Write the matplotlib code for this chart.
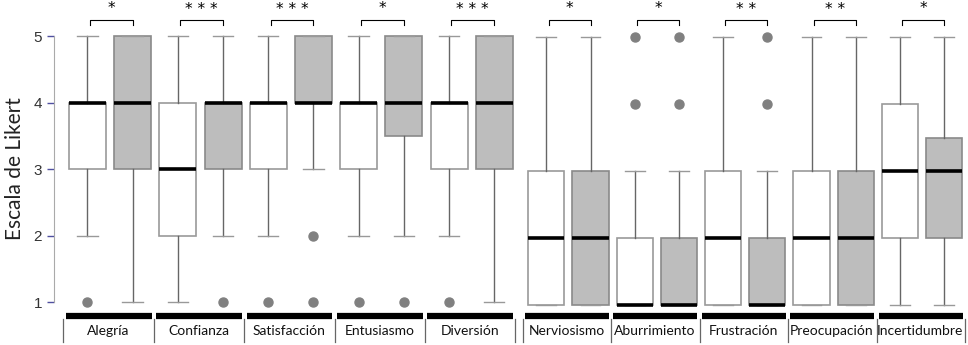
import matplotlib.pyplot as plt

categories = ["Alegría", "Confianza", "Satisfacción", "Entusiasmo", "Diversión",
              "Nerviosismo", "Aburrimiento", "Frustración", "Preocupación", "Incertidumbre"]
stars = ["*", "* * *", "* * *", "*", "* * *", "*", "*", "* *", "* *", "*"]

# first condition (white boxes)
white_lo = [2, 1, 2, 2, 2, 1, 1, 1, 1, 1]
white_q1 = [3, 2, 3, 3, 3, 1, 1, 1, 1, 2]
white_med = [4, 3, 4, 4, 4, 2, 1, 2, 2, 3]
white_q3 = [4, 4, 4, 4, 4, 3, 2, 3, 3, 4]
white_hi = [5, 5, 5, 5, 5, 5, 3, 5, 5, 5]
white_out = [[1], [], [1], [1], [1], [], [4, 5], [], [], []]

# second condition (gray boxes)
gray_lo = [1, 2, 3, 2, 1, 1, 1, 1, 1, 1]
gray_q1 = [3, 3, 4, 3.5, 3, 1, 1, 1, 1, 2]
gray_med = [4, 4, 4, 4, 4, 2, 1, 1, 2, 3]
gray_q3 = [5, 4, 5, 5, 5, 3, 2, 2, 3, 3.5]
gray_hi = [5, 5, 5, 5, 5, 5, 3, 3, 5, 5]
gray_out = [[], [1], [1, 2], [1], [], [], [4, 5], [4, 5], [], []]

W, H = 968, 345
fig = plt.figure(figsize=(W / 100, H / 100), dpi=100)


def stats(lo, q1, med, q3, hi, out, idx):
    return [dict(whislo=lo[i], q1=q1[i], med=med[i], q3=q3[i], whishi=hi[i],
                 fliers=out[i], label="") for i in idx]


def make_panel(x0, x1, y5, y1, xl, xr, idx):
    ax = fig.add_axes([x0 / W, 0, (x1 - x0) / W, 1])
    unit = (y1 - y5) / 4
    ax.set_ylim(1 - (H - y1) / unit, 5 + y5 / unit)
    ax.set_xlim(xl, xr)
    n = len(idx)
    pos_w = [2 * j for j in range(n)]
    pos_g = [2 * j + 1 for j in range(n)]
    common = dict(widths=0.82, patch_artist=True, showfliers=True, capwidths=0.45,
                  medianprops=dict(color="black", lw=2.6),
                  whiskerprops=dict(color="#666666", lw=1),
                  capprops=dict(color="#999999", lw=1),
                  flierprops=dict(marker="o", markerfacecolor="#808080",
                                  markeredgecolor="#808080", markersize=6.5))
    ax.bxp(stats(white_lo, white_q1, white_med, white_q3, white_hi, white_out, idx),
           positions=pos_w, boxprops=dict(facecolor="white", edgecolor="#9a9a9a", lw=1.2), **common)
    ax.bxp(stats(gray_lo, gray_q1, gray_med, gray_q3, gray_hi, gray_out, idx),
           positions=pos_g, boxprops=dict(facecolor="#bdbdbd", edgecolor="#8a8a8a", lw=1.2), **common)

    tr = ax.get_xaxis_transform()
    fy = lambda p: 1 - p / H
    for j, i in enumerate(idx):
        a, b = 2 * j + 0.05, 2 * j + 1.0
        ax.plot([a, a, b, b], [fy(25), fy(20), fy(20), fy(25)], color="black", lw=0.8,
                transform=tr, clip_on=False)
        ax.text((a + b) / 2, fy(9), stars[i], ha="center", va="center", fontsize=11,
                transform=tr)
        ax.plot([2 * j - 0.48, 2 * j + 1.42], [fy(316), fy(316)], color="black", lw=4.5,
                solid_capstyle="butt", transform=tr, clip_on=False)
        ax.text(2 * j + 0.46, fy(331), categories[i], ha="center", va="center",
                fontsize=10, family="Lato", color="#111111", transform=tr)
    for j in range(n + 1):
        ax.plot([2 * j - 0.53] * 2, [fy(319), fy(342)], color="#666666", lw=0.9,
                transform=tr, clip_on=False)
    for s in ["top", "right", "bottom"]:
        ax.spines[s].set_visible(False)
    ax.set_xticks([])
    return ax


left = make_panel(54, 520, 36, 302, -0.74, 9.57, range(0, 5))
left.spines["left"].set_bounds(1, 5)
left.spines["left"].set_color("#aaaaaa")
left.set_yticks([1, 2, 3, 4, 5])
left.tick_params(axis="y", colors="#5050a0", length=5, width=1, labelsize=11,
                 labelcolor="#333333")
for t in left.get_yticklabels():
    t.set_family("Liberation Sans")
left.set_ylabel("Escala de Likert", fontsize=15, family="Lato", color="#222222")
left.yaxis.set_label_coords(-0.062, 1 - 169 / H)

right = make_panel(522, 968, 37, 305, -0.55, 9.54, range(5, 10))
right.spines["left"].set_visible(False)
right.set_yticks([])

fig.savefig("out.png", dpi=100)
